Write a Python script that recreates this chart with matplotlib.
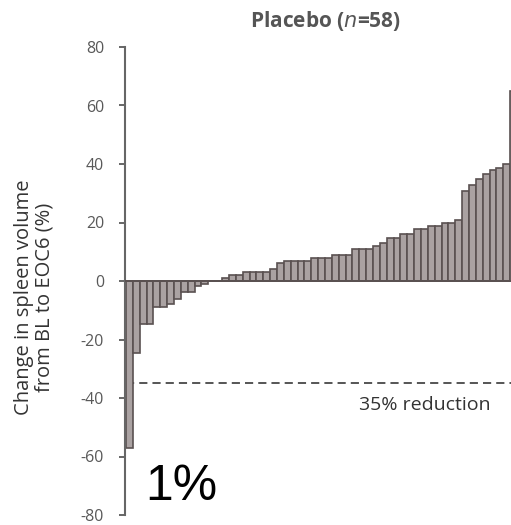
import matplotlib
matplotlib.use("Agg")
import matplotlib.pyplot as plt
import numpy as np

# Data, sorted patient changes in spleen volume (%)
values = [-57, -24.7, -14.8, -14.8, -8.9, -8.9, -7.7, -6.0, -3.8, -3.8, -1.8, -0.9,
          0, 0,
          1.0, 2.1, 2.1, 3.1, 3.1, 3.1, 3.1, 4.1, 6.3, 7.0, 7.0, 7.0, 7.0,
          8.0, 8.0, 8.0, 9.0, 9.0, 9.0, 10.9, 10.9, 10.9, 12.0, 13.0, 14.7, 14.7,
          16.0, 16.0, 17.7, 17.7, 18.8, 18.8, 19.7, 19.7, 20.9,
          30.8, 32.8, 34.8, 36.7, 37.9, 38.8, 40.0, 65.0, 70.0]
yticks = [80, 60, 40, 20, 0, -20, -40, -60, -80]
threshold = -35
ylabel_lines = ["Change in spleen volume", "from BL to EOC6 (%)"]
threshold_label = "35% reduction"
big_label = "1%"

W, H = 511, 525
fig = plt.figure(figsize=(W / 100, H / 100), dpi=100)
fig.patch.set_facecolor("white")

xmin, xmax = -0.65, 58.0
px_per_unit = 6.86
ax_left = 125 / W
ax_width = (xmax - xmin) * px_per_unit / W
ax_bottom = (H - 515) / H
ax_top = (H - 47) / H
ax = fig.add_axes([ax_left, ax_bottom, ax_width, ax_top - ax_bottom])

x = np.arange(len(values))
ax.bar(x, values, width=1.0, color="#aaa2a2", edgecolor="#5a5151", linewidth=1.2, zorder=2)
ax.axhline(0, color="#5a5151", linewidth=1.4, zorder=3)
ax.axhline(threshold, xmin=0.003, color="#555555", linewidth=1.4,
           linestyle=(0, (4.2, 2.6)), zorder=1)

ax.set_xlim(xmin, xmax)
ax.set_ylim(-80, 80)
ax.set_yticks(yticks)
ax.set_yticklabels([str(t) for t in yticks], fontsize=11.5, color="#595959", family="Open Sans")
ax.set_xticks([])
for s in ["top", "right", "bottom"]:
    ax.spines[s].set_visible(False)
ax.spines["left"].set_color("#666666")
ax.spines["left"].set_linewidth(1.5)
ax.tick_params(axis="y", direction="out", length=4.5, width=1.4, color="#666666", pad=10.5)

# y label (two lines)
fig.text(24 / W, 1 - 297 / H, ylabel_lines[0], rotation=90, ha="center", va="center",
         fontsize=14.5, color="#333333", family="Open Sans")
fig.text(45 / W, 1 - 297 / H, ylabel_lines[1], rotation=90, ha="center", va="center",
         fontsize=14.5, color="#333333", family="Open Sans")

# title
fig.text(326 / W, 1 - 21 / H, r"Placebo ($\mathbf{\mathit{n}}$=58)", ha="center", va="center",
         fontsize=15, fontweight="bold", color="#555555", family="Open Sans")

# threshold label
fig.text(425 / W, 1 - 405 / H, threshold_label, ha="center", va="center",
         fontsize=14, color="#333333", family="Open Sans")

# big label
fig.text(145 / W, 1 - 487 / H, big_label, ha="left", va="center",
         fontsize=36, color="black", family="Liberation Sans")

fig.savefig("out.png", dpi=100, facecolor="white")
